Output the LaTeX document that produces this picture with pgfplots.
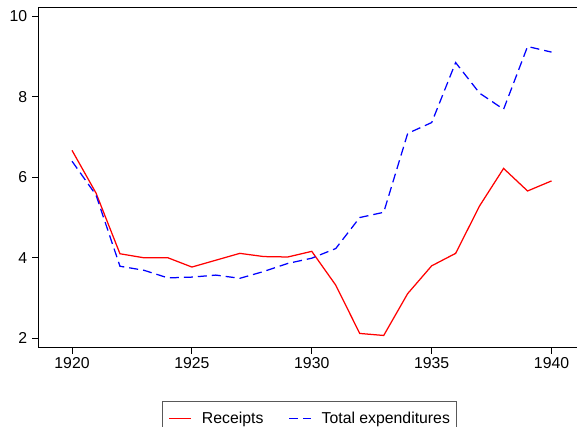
\documentclass[border=0pt]{standalone}
\usepackage{fontspec}
\setmainfont{Liberation Sans}
\usepackage{pgfplots}
\pgfplotsset{compat=1.18}
\begin{document}
\begin{tikzpicture}[x=1pt,y=1pt]
\begin{axis}[
  at={(0,0)}, anchor=south west, scale only axis,
  width=546.8pt, height=340.4pt,
  xmin=1918.594, xmax=1941.4, ymin=1.766, ymax=10.224,
  xtick={1920,1925,...,1940}, ytick={2,4,...,10},
  tick align=outside, major tick length=6pt,
  xtick pos=lower, ytick pos=left,
  tick style={black, line width=0.8pt},
  axis line style={black, line width=0.9pt},
  /pgf/number format/1000 sep={},
  /pgf/number format/assume math mode=true,
  ticklabel style={font=\fontsize{15.8}{18}\selectfont},
  x tick label style={inner sep=4pt},
  y tick label style={inner sep=5pt},
  legend columns=2,
  legend image code/.code={\draw[#1] (0pt,0pt) -- (22pt,0pt);},
  legend style={at={(0.2268,-0.157)}, anchor=north west,
    draw=black!65, line width=0.8pt,
    font=\fontsize{15.8}{18}\selectfont,
    inner xsep=6pt, inner ysep=10.5pt,
    nodes={inner sep=0pt},
    column sep=10pt,
    /tikz/every even column/.append style={column sep=25pt}},
]
\addplot[red, line width=1.25pt] coordinates {
(1920,6.67) (1921,5.61) (1922,4.10) (1923,4.00) (1924,4.00) (1925,3.77)
(1926,3.94) (1927,4.11) (1928,4.03) (1929,4.02) (1930,4.16) (1931,3.32)
(1932,2.12) (1933,2.07) (1934,3.11) (1935,3.80) (1936,4.11) (1937,5.29)
(1938,6.22) (1939,5.66) (1940,5.91)};
\addlegendentry{Receipts}
\addplot[blue, line width=1.25pt, dash pattern=on 9pt off 5pt] coordinates {
(1920,6.40) (1921,5.56) (1922,3.79) (1923,3.69) (1924,3.50) (1925,3.52)
(1926,3.57) (1927,3.49) (1928,3.66) (1929,3.86) (1930,3.99) (1931,4.23)
(1932,5.00) (1933,5.13) (1934,7.09) (1935,7.36) (1936,8.85) (1937,8.09)
(1938,7.69) (1939,9.25) (1940,9.11)};
\addlegendentry{Total expenditures}
\end{axis}
\pgfresetboundingbox
\path[use as bounding box] (-38.3,-79.3) rectangle (538.7,347.7);
\end{tikzpicture}
\end{document}
